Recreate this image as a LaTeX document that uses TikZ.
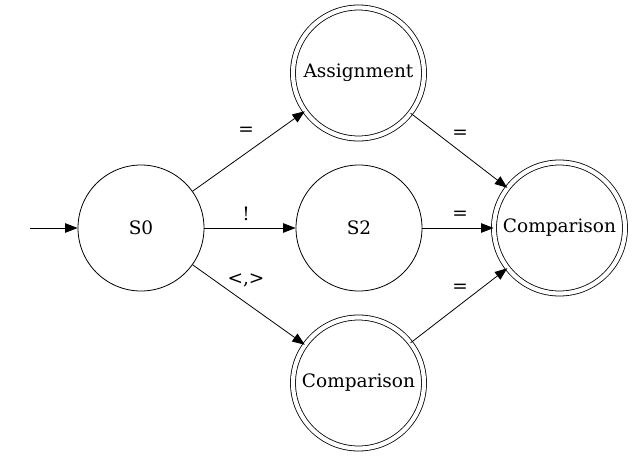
\documentclass[tikz,border=0pt]{standalone}
\usepackage{fontspec}
\setmainfont{DejaVu Serif}
\usetikzlibrary{arrows.meta}
\begin{document}
\begin{tikzpicture}[x=1pt,y=-1pt,
  st/.style={draw,circle,line width=0.8pt,minimum size=126pt,inner sep=0pt,font=\fontsize{18.5}{21}\selectfont},
  acc/.style={st,double,double distance=4.2pt,minimum size=131pt},
  edge/.style={line width=0.8pt,-{Triangle[length=12.5pt,width=9.5pt]}},
  lab/.style={font=\fontsize{18.5}{21}\selectfont,inner sep=1pt}]
\useasboundingbox (0,0) rectangle (633,456);
\node[st] (s0) at (141,228) {S0};
\node[st] (s2) at (359,228) {S2};
\node[acc] (as) at (358.5,73) {Assignment};
\node[acc] (cb) at (358.5,383) {Comparison};
\node[acc] (cr) at (559.5,228) {Comparison};
\coordinate (start) at (30,228);
\draw[edge] (start) -- (s0);
\draw[edge] (s0) -- (as);
\draw[edge] (s0) -- (s2);
\draw[edge] (s0) -- (cb);
\draw[edge] (as) -- (cr);
\draw[edge] (s2) -- (cr);
\draw[edge] (cb) -- (cr);
\node[lab] (l1) at (246,131) {=};
\node[lab] (l2) at (246,214) {!};
\node[lab] (l3) at (246,280) {<,>};
\node[lab] (l4) at (460,134) {=};
\node[lab] (l5) at (460,215) {=};
\node[lab] (l6) at (460,288) {=};
\end{tikzpicture}
\end{document}
